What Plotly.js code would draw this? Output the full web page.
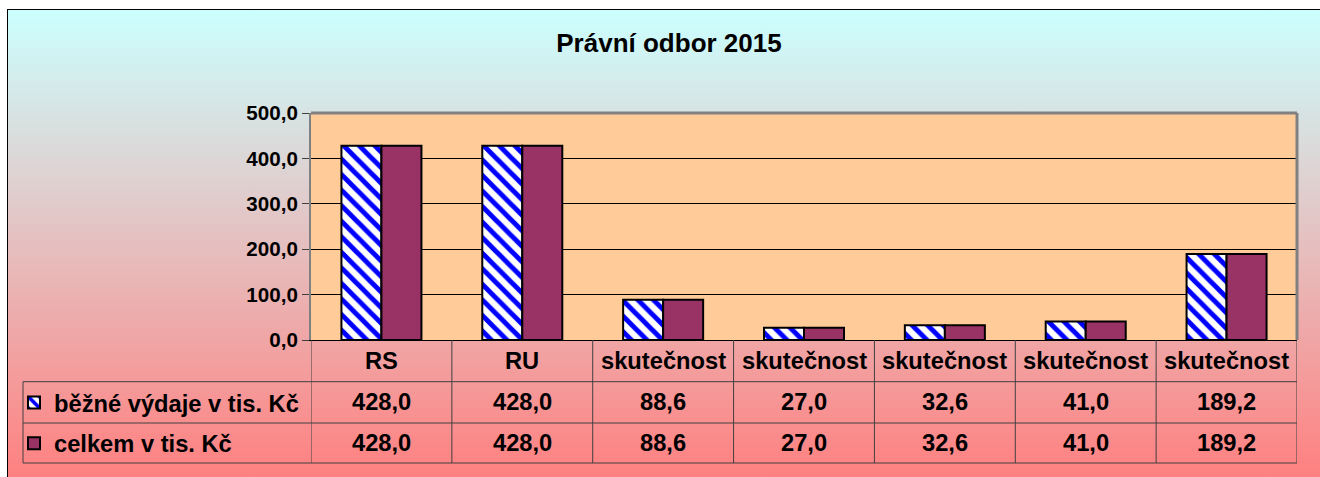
<!DOCTYPE html>
<html>
<head>
<meta charset="utf-8">
<script src="https://cdn.plot.ly/plotly-3.0.1.min.js"></script>
<style>
html,body{margin:0;padding:0;background:#fff;overflow:hidden;}
#wrap{position:relative;width:1320px;height:477px;overflow:hidden;}
#bg{position:absolute;left:7px;top:9px;width:1330px;height:480px;border-left:1px solid #000;border-top:1px solid #000;
    background:linear-gradient(to bottom,#CCFFFF 0px,#FF8080 467px);}
#chart{position:absolute;left:0;top:0;width:1320px;height:477px;}
</style>
</head>
<body>
<div id="wrap"><div id="bg"></div><div id="chart"></div></div>
<script>
// ---- data ----
const chartTitle = 'Právní odbor 2015';
const categories = ['RS', 'RU', 'skutečnost', 'skutečnost', 'skutečnost', 'skutečnost', 'skutečnost'];
const seriesNames = ['běžné výdaje v tis. Kč', 'celkem v tis. Kč'];
const bezneVydaje = [428.0, 428.0, 88.6, 27.0, 32.6, 41.0, 189.2];
const celkem = [428.0, 428.0, 88.6, 27.0, 32.6, 41.0, 189.2];
const yTickValues = [0, 100, 200, 300, 400, 500];

// ---- geometry helpers (pixels -> paper) ----
const W = 1320, H = 477;
const M = {l: 311, r: 23, t: 113, b: 137};
const plotW = W - M.l - M.r, plotH = H - M.t - M.b;
const py = p => (H - M.b - p) / plotH;      // pixel y -> paper y
const px = p => (p - M.l) / plotW;          // pixel x -> paper x

const FONT = 'Arial, "Liberation Sans", sans-serif';
const fmt = v => v.toFixed(1).replace('.', ',');
const xs = categories.map((c, i) => i);

const traces = [
  {
    type: 'bar', x: xs, y: bezneVydaje, name: seriesNames[0], legendgroup: 'a',
    marker: {color: '#FFFFFF', line: {color: '#000000', width: 2},
             pattern: {shape: '\\', fgcolor: '#0000FF', bgcolor: '#FFFFFF', size: 11, solidity: 0.45, fillmode: 'replace'}},
    hoverinfo: 'skip'
  },
  {
    type: 'bar', x: xs, y: celkem, name: seriesNames[1], legendgroup: 'b',
    marker: {color: '#993366', line: {color: '#000000', width: 2}},
    hoverinfo: 'skip'
  }
];

// table rows (pixel positions of lines)
const rowTop = 340, row1 = 381.7, row2 = 423, row3 = 463;
const tableLeft = 23;
const lineCol = '#404040';
const shapes = [];
// wall borders (gray, top & right)
shapes.push({type: 'line', xref: 'paper', yref: 'paper', x0: 0, x1: 1, y0: 1, y1: 1, line: {color: '#808080', width: 3}});
shapes.push({type: 'line', xref: 'paper', yref: 'paper', x0: 1, x1: 1, y0: 0, y1: 1, line: {color: '#808080', width: 3}});
// vertical column lines of the data table
for (let i = 0; i <= categories.length; i++) {
  shapes.push({type: 'line', xref: 'x', yref: 'paper', x0: i - 0.5, x1: i - 0.5, y0: py(rowTop), y1: py(row3), line: {color: lineCol, width: 1}});
}
// horizontal table lines
[row1, row2, row3].forEach(r => {
  shapes.push({type: 'line', xref: 'paper', yref: 'paper', x0: px(tableLeft), x1: 1, y0: py(r), y1: py(r), line: {color: lineCol, width: 1}});
});
shapes.push({type: 'line', xref: 'paper', yref: 'paper', x0: px(tableLeft), x1: px(tableLeft), y0: py(row1), y1: py(row3), line: {color: lineCol, width: 1}});

// table text
const annotations = [];
const cellFont = {family: FONT, size: 23.7, color: '#000', weight: 'bold'};
categories.forEach((c, i) => {
  annotations.push({xref: 'x', yref: 'paper', x: i, y: py((rowTop + row1) / 2), text: c, showarrow: false, xanchor: 'center', yanchor: 'middle', font: cellFont});
  annotations.push({xref: 'x', yref: 'paper', x: i, y: py((row1 + row2) / 2), text: fmt(bezneVydaje[i]), showarrow: false, xanchor: 'center', yanchor: 'middle', font: cellFont});
  annotations.push({xref: 'x', yref: 'paper', x: i, y: py((row2 + row3) / 2), text: fmt(celkem[i]), showarrow: false, xanchor: 'center', yanchor: 'middle', font: cellFont});
});

const layout = {
  width: W, height: H,
  margin: M,
  paper_bgcolor: 'rgba(0,0,0,0)',
  plot_bgcolor: '#FFCC99',
  separators: ', ',
  barmode: 'group', bargap: 0.432, bargroupgap: 0,
  font: {family: FONT, color: '#000', weight: 'bold'},
  title: {text: chartTitle, font: {family: FONT, size: 26, weight: 'bold', color: '#000'},
          xref: 'container', yref: 'container', x: 669 / W, xanchor: 'center', y: 1 - 43 / H, yanchor: 'middle'},
  xaxis: {range: [-0.5, categories.length - 0.5], showticklabels: false, showgrid: false, zeroline: false,
          showline: true, linecolor: '#000', linewidth: 1, ticks: '', fixedrange: true},
  yaxis: {range: [0, 500], tickvals: yTickValues, tickformat: '.1f', ticks: 'outside', ticklen: 7, tickcolor: '#404040',
          showgrid: true, gridcolor: '#000', gridwidth: 1, showline: true, linecolor: '#808080', linewidth: 2,
          zeroline: false, tickfont: {family: FONT, size: 20.6, weight: 'bold', color: '#000'}, fixedrange: true},
  showlegend: true,
  legend: {xref: 'paper', yref: 'paper', x: px(14), xanchor: 'left', y: py(380.5), yanchor: 'top',
           traceorder: 'grouped', tracegroupgap: 7, bgcolor: 'rgba(0,0,0,0)', borderwidth: 0,
           font: {family: FONT, size: 23.7, weight: 'bold', color: '#000'}},
  shapes: shapes,
  annotations: annotations
};

Plotly.newPlot('chart', traces, layout, {staticPlot: true, displayModeBar: false});
</script>
</body>
</html>
